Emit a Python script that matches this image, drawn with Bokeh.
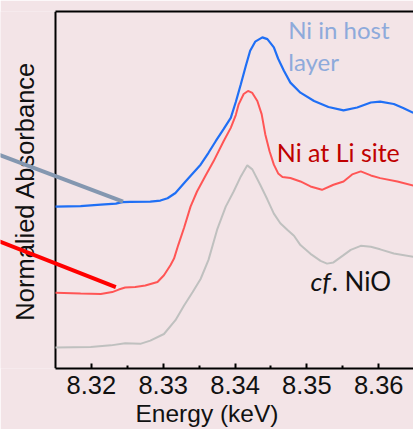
import math
from bokeh.plotting import figure
from bokeh.models import Range1d, Label, FixedTicker, LinearAxis
from bokeh.embed import file_html
from bokeh.resources import INLINE

# Data (energy in keV, normalized absorbance with vertical offsets)
energy_host = [8.3150, 8.3185, 8.3213, 8.3234, 8.3243, 8.3254, 8.3282, 8.3296, 8.3306, 8.3317,
               8.3331, 8.3341, 8.3352, 8.3363, 8.3373, 8.3384, 8.3394, 8.3401, 8.3408, 8.3415,
               8.3421, 8.3428, 8.3438, 8.3445, 8.3454, 8.3460, 8.3468, 8.3477, 8.3491, 8.3510,
               8.3530, 8.3551, 8.3570, 8.3589, 8.3602, 8.3621, 8.3634, 8.3648]
absorb_host = [1.610, 1.615, 1.630, 1.640, 1.655, 1.657, 1.660, 1.670, 1.693, 1.745,
               1.860, 1.940, 2.027, 2.145, 2.260, 2.380, 2.493, 2.650, 2.827, 3.010,
               3.160, 3.250, 3.293, 3.275, 3.193, 3.080, 2.960, 2.843, 2.743, 2.660,
               2.600, 2.567, 2.595, 2.645, 2.653, 2.630, 2.590, 2.543]

energy_li = [8.3150, 8.3185, 8.3213, 8.3229, 8.3238, 8.3247, 8.3261, 8.3275, 8.3292, 8.3301,
             8.3310, 8.3315, 8.3321, 8.3329, 8.3338, 8.3347, 8.3359, 8.3370, 8.3384, 8.3394,
             8.3401, 8.3405, 8.3412, 8.3418, 8.3424, 8.3431, 8.3437, 8.3442, 8.3448, 8.3454,
             8.3460, 8.3466, 8.3477, 8.3491, 8.3505, 8.3521, 8.3537, 8.3551, 8.3563, 8.3575,
             8.3589, 8.3602, 8.3626, 8.3648]
absorb_li = [0.753, 0.745, 0.740, 0.760, 0.785, 0.805, 0.810, 0.825, 0.860, 0.927,
             1.027, 1.093, 1.230, 1.400, 1.610, 1.760, 1.920, 2.060, 2.260, 2.393,
             2.520, 2.627, 2.730, 2.760, 2.740, 2.660, 2.530, 2.330, 2.160, 2.027,
             1.940, 1.905, 1.895, 1.860, 1.810, 1.777, 1.827, 1.860, 1.930, 1.960,
             1.920, 1.893, 1.860, 1.820]

energy_nio = [8.3150, 8.3199, 8.3227, 8.3247, 8.3268, 8.3282, 8.3301, 8.3317, 8.3329, 8.3341,
              8.3352, 8.3363, 8.3375, 8.3387, 8.3398, 8.3408, 8.3417, 8.3424, 8.3435, 8.3445,
              8.3454, 8.3463, 8.3473, 8.3482, 8.3491, 8.3505, 8.3519, 8.3528, 8.3537, 8.3551,
              8.3561, 8.3575, 8.3589, 8.3602, 8.3621, 8.3648]
absorb_nio = [0.210, 0.215, 0.230, 0.250, 0.245, 0.277, 0.343, 0.480, 0.627, 0.760,
              0.890, 1.080, 1.380, 1.610, 1.760, 1.910, 2.020, 1.980, 1.827, 1.680,
              1.540, 1.445, 1.377, 1.320, 1.227, 1.140, 1.070, 1.043, 1.055, 1.127,
              1.180, 1.220, 1.210, 1.185, 1.143, 1.110]

# pointer lines (energy, absorbance) from outside the axis to the curves
pointer_host_x = [8.3070, 8.3244]
pointer_host_y = [2.13, 1.66]
pointer_li_x = [8.3070, 8.3234]
pointer_li_y = [1.27, 0.81]

x_ticks = [8.32, 8.33, 8.34, 8.35, 8.36]
x_minor = [8.325, 8.335, 8.345, 8.355]

E_MIN, E_MAX = 8.315, 8.36484
A_MIN, A_MAX = 0.0, 3.55
BG = "#f3e4e7"

p = figure(width=413, height=429, output_backend="svg", toolbar_location=None,
           x_range=Range1d(E_MIN - 55 / 7183, E_MAX), y_range=Range1d(A_MIN, A_MAX),
           y_axis_location=None,
           min_border_left=0, min_border_right=0, min_border_top=11, min_border_bottom=0)
p.background_fill_color = BG
p.border_fill_color = BG
p.outline_line_color = None
p.grid.visible = False

# x axis
xa = p.xaxis[0]
xa.bounds = (E_MIN, E_MAX)
xa.ticker = FixedTicker(ticks=x_ticks, minor_ticks=x_minor)
xa.axis_line_width = 2
xa.axis_line_color = "black"
xa.major_tick_in = 5
xa.major_tick_out = 0
xa.major_tick_line_width = 2
xa.minor_tick_in = 3
xa.minor_tick_out = 0
xa.minor_tick_line_width = 2
xa.major_label_text_font = "Liberation Sans"
xa.major_label_text_font_size = "25.5px"
xa.major_label_text_color = "#111111"
xa.major_label_standoff = 7
xa.axis_label = "Energy (keV)"
xa.axis_label_text_font = "Liberation Sans"
xa.axis_label_text_font_size = "24.5px"
xa.axis_label_text_font_style = "normal"
xa.axis_label_text_color = "#111111"
xa.axis_label_standoff = 3

# top border as a bare axis line
top = LinearAxis(ticker=FixedTicker(ticks=[]), bounds=(E_MIN, E_MAX),
                 axis_line_width=2, axis_line_color="black",
                 major_tick_in=0, major_tick_out=0, minor_tick_in=0, minor_tick_out=0,
                 major_label_text_font_size="0px", major_label_standoff=0)
p.add_layout(top, "above")

# left axis line (no ticks) and its title
p.segment(x0=[E_MIN], y0=[A_MIN], x1=[E_MIN], y1=[A_MAX], line_color="black", line_width=2)
p.add_layout(Label(x=24, y=188.5 - 11, x_units="screen", y_units="screen",
                   text="Normalied Absorbance", angle=math.pi / 2,
                   text_align="center", text_baseline="middle",
                   text_font="Liberation Sans", text_font_size="25.5px",
                   text_color="#111111", level="underlay"))

# spectra
p.line(energy_nio, absorb_nio, line_color="#bfc0bf", line_width=2)
p.line(energy_li, absorb_li, line_color="#ff5555", line_width=2)
p.line(energy_host, absorb_host, line_color="#1f6ff5", line_width=2.2)

# pointer lines
p.line(pointer_host_x, pointer_host_y, line_color="#8497b0", line_width=4)
p.line(pointer_li_x, pointer_li_y, line_color="#ff0000", line_width=4)

# labels
p.add_layout(Label(x=8.3474, y=3.37, text="Ni in host", text_font="Lato",
                   text_font_size="24px", text_color="#8eaadb", text_baseline="alphabetic"))
p.add_layout(Label(x=8.3474, y=3.055, text="layer", text_font="Lato",
                   text_font_size="24px", text_color="#8eaadb", text_baseline="alphabetic"))
p.add_layout(Label(x=8.3458, y=2.155, text="Ni at Li site", text_font="Lato",
                   text_font_size="25px", text_color="#c00000", text_baseline="alphabetic"))
p.add_layout(Label(x=8.3505, y=0.875, text="cf", text_font="Lato", text_font_style="italic",
                   text_font_size="26px", text_color="#111111", text_baseline="alphabetic"))
p.add_layout(Label(x=8.35345, y=0.875, text=". NiO", text_font="Lato",
                   text_font_size="26px", text_color="#111111", text_baseline="alphabetic"))

open("out.html", "w").write(file_html(p, INLINE))
